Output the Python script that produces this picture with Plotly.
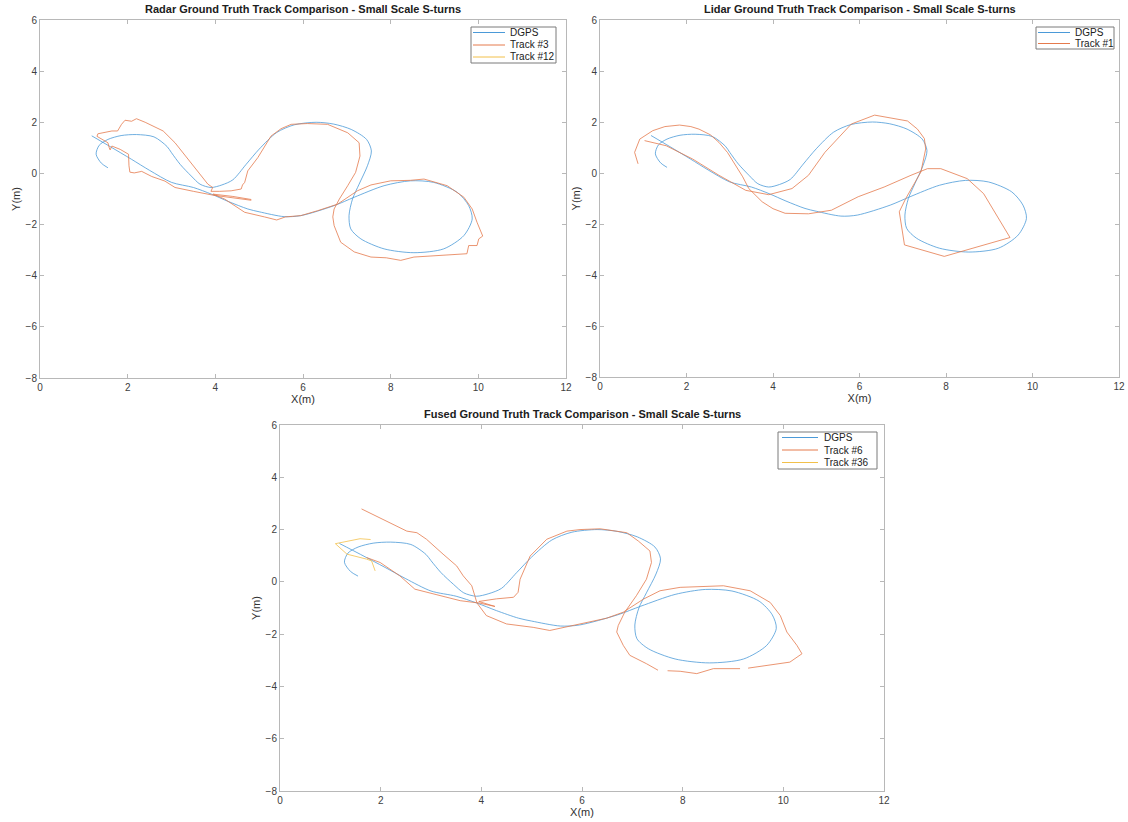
import plotly.graph_objects as go

# ---------------- data ----------------
DGPS_X = [1.55, 1.4, 1.28, 1.35, 1.55, 1.85, 2.2, 2.6, 2.9, 3.0, 3.2, 3.45, 3.65, 3.9, 4.15, 4.4,
          4.7, 5.0, 5.4, 5.8, 6.3, 6.7, 7.1, 7.45, 7.56, 7.47, 7.28, 7.13, 7.05, 7.09, 7.32, 7.85,
          8.53, 9.21, 9.67, 9.86, 9.78, 9.52, 8.98, 8.45, 7.85, 7.17, 6.71, 5.95, 5.57, 5.0, 4.74,
          4.3, 3.91, 3.5, 3.0, 2.5, 2.09, 1.6, 1.18]
DGPS_Y = [0.22, 0.4, 0.75, 1.1, 1.33, 1.48, 1.52, 1.43, 1.05, 0.81, 0.35, -0.1, -0.42, -0.55,
          -0.45, -0.25, 0.35, 0.95, 1.6, 1.9, 2.0, 1.93, 1.72, 1.33, 0.88, 0.3, -0.42, -1.0, -1.65,
          -2.17, -2.56, -2.95, -3.1, -2.95, -2.43, -1.78, -1.26, -0.74, -0.35, -0.29, -0.48, -0.93,
          -1.26, -1.65, -1.69, -1.5, -1.39, -1.1, -0.81, -0.55, -0.35, 0.12, 0.55, 1.05, 1.47]

RADAR_T3_X = [4.82, 4.4, 3.95, 3.5, 3.3, 3.08, 2.85, 2.55, 2.32, 2.15, 2.05, 2.03, 2.02, 1.83,
              1.64, 1.6, 1.58, 1.55, 1.3, 1.32, 1.64, 1.77, 1.86, 1.94, 2.09, 2.2, 2.4, 2.55, 2.81,
              3.08, 3.38, 3.68, 3.83, 3.94, 3.9, 4.1, 4.36, 4.59, 4.62, 4.67, 4.74, 4.97, 5.27, 5.5,
              5.73, 6.1, 6.56, 7.02, 7.28, 7.3, 7.2, 7.02, 6.83, 6.71, 6.68, 6.71, 6.86, 7.17, 7.55,
              7.9, 8.23, 8.53, 9.14, 9.74, 9.78, 9.97, 10.01, 10.1, 9.97, 9.86, 9.67, 9.29, 8.76,
              8.45, 8.0, 7.55, 7.24, 6.79, 6.33, 5.95, 5.6, 5.4, 5.12, 4.67, 4.21, 3.95, 4.4, 4.82]
RADAR_T3_Y = [-1.05, -0.95, -0.85, -0.7, -0.62, -0.55, -0.3, -0.12, 0.08, 0.02, 0.05, 0.3, 0.75,
              0.94, 1.07, 0.92, 1.0, 1.2, 1.45, 1.55, 1.66, 1.66, 1.92, 2.08, 2.04, 2.14, 2.0, 1.88,
              1.66, 1.2, 0.55, -0.09, -0.42, -0.55, -0.7, -0.7, -0.68, -0.61, -0.45, -0.35, 0.1,
              0.62, 1.46, 1.75, 1.92, 1.95, 1.92, 1.59, 1.2, 0.68, 0.04, -0.48, -1.0, -1.39, -1.7,
              -2.04, -2.69, -3.07, -3.27, -3.3, -3.4, -3.27, -3.2, -3.14, -2.82, -2.82, -2.56,
              -2.45, -1.91, -1.39, -0.93, -0.48, -0.22, -0.27, -0.29, -0.45, -0.68, -1.2, -1.46,
              -1.65, -1.7, -1.82, -1.7, -1.52, -1.0, -0.81, -0.9, -1.02]
RADAR_T12_X = []
RADAR_T12_Y = []

LIDAR_T1_X = [0.88, 0.8, 0.92, 1.22, 1.5, 1.84, 2.1, 2.29, 2.55, 2.75, 2.95, 3.14, 3.3, 3.44, 3.75,
              4.0, 4.28, 4.82, 5.35, 5.97, 6.57, 7.19, 7.57, 7.88, 8.49, 8.87, 9.48, 7.96, 7.04,
              6.92, 7.07, 7.42, 7.53, 7.5, 7.34, 7.11, 6.35, 5.81, 5.2, 4.82, 4.44, 3.9, 3.37,
              2.75, 2.14, 1.53, 1.03]
LIDAR_T1_Y = [0.36, 0.81, 1.33, 1.66, 1.82, 1.88, 1.82, 1.72, 1.5, 1.2, 0.8, 0.3, -0.15, -0.61,
              -1.13, -1.4, -1.58, -1.6, -1.46, -0.93, -0.55, -0.09, 0.17, 0.17, -0.22, -0.81,
              -2.53, -3.27, -2.82, -1.52, -1.0, 0.04, 0.94, 1.35, 1.72, 2.04, 2.27, 1.92, 0.81,
              -0.09, -0.61, -0.85, -0.68, -0.09, 0.55, 1.07, 1.27]

FUSED_T6_X = [1.62, 2.05, 2.52, 2.72, 2.91, 3.24, 3.51, 3.64, 3.81, 3.87, 3.91, 4.27, 3.95, 4.3,
              4.64, 4.73, 4.77, 4.97, 5.3, 5.7, 5.96, 6.36, 6.89, 7.12, 7.35, 7.38, 7.28, 7.08,
              6.85, 6.72, 6.69, 6.82, 6.95, 7.28, 7.51, None, 7.7, 7.95, 8.28, 8.61, 9.14, None,
              9.3, 9.67, 10.13, 10.37, 10.27, 10.07, 9.94, 9.74, 9.34, 8.81, 8.48, 7.95, 7.55,
              7.22, 6.82, 6.49, 5.96, 5.36, 5.03, 4.5, 4.1, 3.91, 3.58, 2.91, 2.68, 2.38, 1.99, 1.72]
FUSED_T6_Y = [2.79, 2.39, 1.94, 1.88, 1.63, 1.06, 0.61, 0.23, -0.15, -0.53, -0.79, -0.94, -0.75,
              -0.65, -0.59, -0.4, 0.1, 0.99, 1.63, 1.94, 2.0, 2.03, 1.88, 1.56, 1.18, 0.74, 0.1,
              -0.53, -1.16, -1.67, -1.92, -2.43, -2.81, -3.13, -3.38, None, -3.4, -3.42, -3.51,
              -3.32, -3.32, None, -3.3, -3.19, -3.07, -2.75, -2.43, -1.92, -1.29, -0.79, -0.34,
              -0.15, -0.18, -0.21, -0.34, -0.66, -1.16, -1.39, -1.61, -1.86, -1.74, -1.61, -1.29,
              -0.8, -0.72, -0.4, -0.28, 0.23, 0.74, 0.93]
FUSED_T36_X = [1.8, 1.59, 1.1, 1.33, 1.72, 1.82, 1.89]
FUSED_T36_Y = [1.62, 1.65, 1.46, 1.06, 0.87, 0.8, 0.42]

TITLES = ["Radar Ground Truth Track Comparison - Small Scale S-turns",
          "Lidar Ground Truth Track Comparison - Small Scale S-turns",
          "Fused Ground Truth Track Comparison - Small Scale S-turns"]
X_TICKS = [0, 2, 4, 6, 8, 10, 12]
Y_TICKS = [-8, -6, -4, -2, 0, 2, 4, 6]

# ---------------- style ----------------
W, H = 1128, 822
BLUE = "#4b9ad8"
ORANGE = "#e57a4c"
YELLOW = "#f2c04a"
FONT = "Liberation Sans, Arial, sans-serif"


def px_x(p):
    return p / W


def px_y(p):
    return 1 - p / H


boxes = [  # (left, right, top, bottom) in pixels
    (40, 566, 20, 378),
    (600, 1119, 20, 377),
    (280, 884, 425, 791),
]
# legend boxes: (left, right, top, bottom, row_y list, line_x0, line_x1, text_x)
legend_boxes = [
    (471, 556, 27, 63, [32.5, 45, 57], 473, 505, 508),
    (1036, 1114, 27, 49, [32.5, 43.5], 1038, 1070, 1073),
    (778, 877, 432, 469, [437.5, 450, 462.5], 782, 818, 822),
]

fig = go.Figure()

panels = [
    [("DGPS", DGPS_X, DGPS_Y, BLUE), ("Track #3", RADAR_T3_X, RADAR_T3_Y, ORANGE),
     ("Track #12", RADAR_T12_X, RADAR_T12_Y, YELLOW)],
    [("DGPS", DGPS_X, DGPS_Y, BLUE), ("Track #1", LIDAR_T1_X, LIDAR_T1_Y, ORANGE)],
    [("DGPS", DGPS_X, DGPS_Y, BLUE), ("Track #6", FUSED_T6_X, FUSED_T6_Y, ORANGE),
     ("Track #36", FUSED_T36_X, FUSED_T36_Y, YELLOW)],
]

axis_common = dict(
    showgrid=False, zeroline=False, showline=True, mirror="ticks", automargin=False,
    linecolor="#b8b8b8", linewidth=1, ticks="inside", ticklen=4, tickcolor="#b8b8b8",
    tickfont=dict(family=FONT, size=10, color="#404040"),
)

annotations = []
shapes = []
for i, (traces, box, lb, title) in enumerate(zip(panels, boxes, legend_boxes, TITLES)):
    n = "" if i == 0 else str(i + 1)
    for name, xs, ys, col in traces:
        fig.add_trace(go.Scatter(
            x=xs, y=ys, mode="lines", name=name,
            line=dict(color=col, width=0.8,
                      shape="spline" if name == "DGPS" else "linear", smoothing=0.8),
            connectgaps=False, xaxis="x" + n, yaxis="y" + n, showlegend=False,
        ))
    l, r, t, b = box
    fig.update_layout({
        "xaxis" + n: dict(axis_common, domain=[px_x(l), px_x(r)], range=[0, 12],
                          tickvals=X_TICKS, anchor="y" + n,
                          title=dict(text="X(m)", standoff=0,
                                     font=dict(family=FONT, size=11, color="#303030"))),
        "yaxis" + n: dict(axis_common, domain=[px_y(b), px_y(t)], range=[-8, 6],
                          tickvals=Y_TICKS, anchor="x" + n,
                          title=dict(text="Y(m)", standoff=2,
                                     font=dict(family=FONT, size=11, color="#303030"))),
    })
    annotations.append(dict(
        text="<b>" + title + "</b>", x=px_x((l + r) / 2), y=px_y(t - 3),
        xref="paper", yref="paper", xanchor="center", yanchor="bottom",
        showarrow=False, font=dict(family=FONT, size=11, color="#202020"),
    ))
    # legend box
    ll, lr, lt, lbm, rows, lx0, lx1, tx = lb
    shapes.append(dict(type="rect", xref="paper", yref="paper",
                       x0=px_x(ll), x1=px_x(lr), y0=px_y(lbm), y1=px_y(lt),
                       line=dict(color="#7a7a7a", width=1), fillcolor="white", layer="above"))
    for (name, xs, ys, col), ry in zip(traces, rows):
        shapes.append(dict(type="line", xref="paper", yref="paper",
                           x0=px_x(lx0), x1=px_x(lx1), y0=px_y(ry), y1=px_y(ry),
                           line=dict(color=col, width=1), layer="above"))
        annotations.append(dict(
            text=name, x=px_x(tx), y=px_y(ry), xref="paper", yref="paper",
            xanchor="left", yanchor="middle", showarrow=False,
            font=dict(family=FONT, size=10, color="#202020"),
        ))

fig.update_layout(
    width=W, height=H, margin=dict(l=0, r=0, t=0, b=0),
    paper_bgcolor="white", plot_bgcolor="white", showlegend=False,
    annotations=annotations, shapes=shapes,
)

fig.write_html(
    "out.html",
    config={"displayModeBar": False},
    post_script="document.body.style.margin='0';document.body.style.overflow='hidden';",
)
